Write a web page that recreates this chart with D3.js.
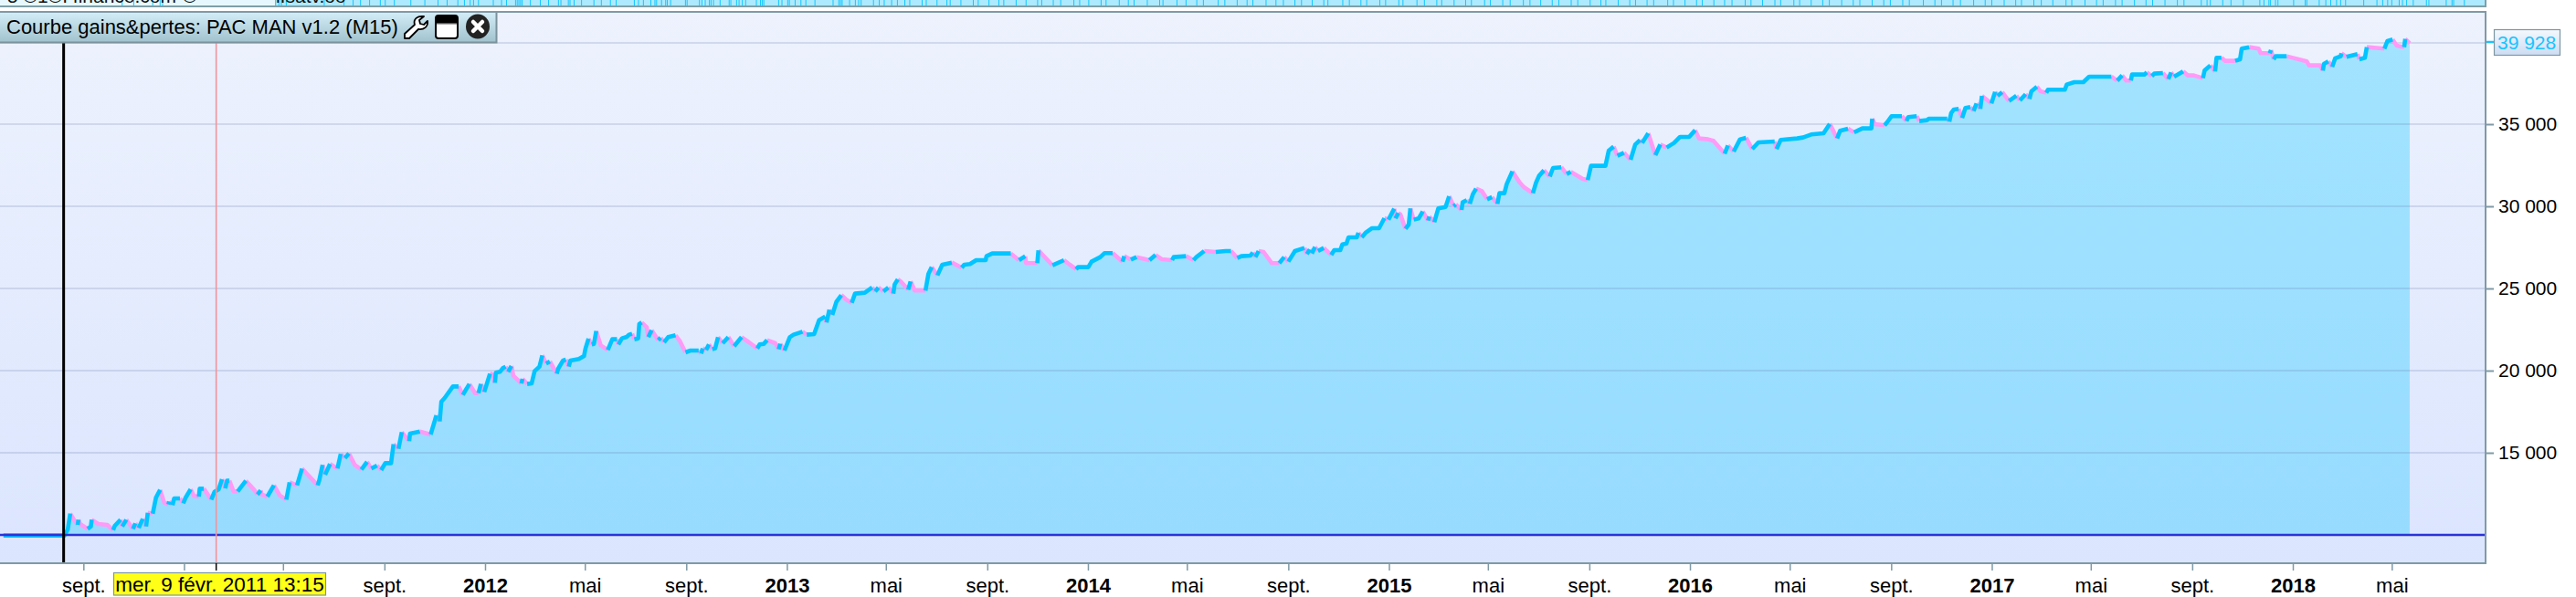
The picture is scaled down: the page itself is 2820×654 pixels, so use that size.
<!DOCTYPE html>
<html><head><meta charset="utf-8">
<script src="https://cdn.jsdelivr.net/npm/d3@7/dist/d3.min.js"></script>
<style>html,body{margin:0;padding:0;background:#fff}svg{display:block}text{font-family:"Liberation Sans",Arial,sans-serif}</style>
</head><body><div id="chart"></div>
<script>
// Days counted from 1 July 2010
const sessionDays = [-35,39,43,46,51,55,56,58,67,71,72,80,91,98,100,107,109,114,122,125,129,134,138,140,146,150,155,160,165,166,170,172,179,183,186,192,196,202,203,208,217,221,226,230,234,236,239,244,249,259,269,273,277,278,285,293,300,308,312,321,327,333,346,348,352,355,361,370,374,379,384,391,399,406,411,418,423,428,435,438,444,448,457,458,470,483,490,494,496,500,510,517,522,530,537,541,544,548,555,557.5,561,562,567,570.5,574,577,581,583.3,593,594.4,600,605.5,609,615,618.4,623,627.6,636,637.6,643.5,647,650.5,652.4,662.7,669,670.8,674.5,678.2,681,683.8,689.3,697.8,703.3,709,710.7,715,721,723.6,727.3,730,734.7,736,739,745,747,751,759,762,766,771,780,785,792,798,808,811,813,817,820.5,824.5,828,831.5,837,844,851,860,869,879,882,887,891,901,905,907,912,918.5,923,934,939,948,954,961.5,963,966.5,970,975,981,987,993.6,997.6,1009.5,1018.4,1022,1026,1032,1038,1044,1045.6,1049.5,1053,1062,1065,1070,1083,1086.6,1090.6,1097.5,1103.4,1115,1127,1130,1137,1144.5,1156,1157,1164,1186.5,1196.4,1204,1205,1218.6,1220,1226,1237,1251,1258,1265.6,1268,1280.5,1284.4,1295,1300,1310,1322,1324,1332,1339,1354.6,1362,1369.5,1382,1384,1399,1408,1411.5,1421,1435,1447,1453.5,1461,1466,1477,1480,1483,1487,1493,1503,1512,1518,1523,1531,1542.6,1545.5,1549,1551.5,1555.4,1559,1566,1575,1578.7,1586,1588.5,1593.5,1596,1606,1608,1612,1616.7,1624.6,1633,1639.5,1644.4,1651.4,1653,1656.3,1659,1665,1669,1671,1675,1681,1686,1692.4,1694,1700,1704.8,1713.7,1718,1723.5,1726,1733,1734.4,1739.4,1743,1746.8,1750.7,1757.7,1764,1770,1776.5,1779,1785,1787.8,1794.7,1803.6,1808.6,1819.5,1823.4,1827,1833,1840,1844,1854,1860.5,1865.5,1880,1886,1890,1907.5,1911.5,1917.5,1922,1930,1938,1943.6,1949.5,1952,1959.4,1968,1974,1981.7,1990.6,1998,2009,2016.3,2021,2032,2038.5,2052,2056,2063,2070.7,2078,2085.5,2093,2112.7,2115,2120,2140,2147,2157,2172,2179.5,2188.4,2192,2201.7,2209,2219,2230,2231,2234,2246,2249,2254.4,2267,2272.5,2274.7,2285,2288,2297.3,2299.6,2322,2324.5,2326.7,2330,2335.8,2340,2344,2350,2353.8,2357.5,2362,2364,2375.5,2380,2383,2388.6,2396.8,2405.8,2410,2417,2421.6,2424,2430.7,2435,2442,2444,2464.6,2466.8,2476,2487,2494,2521,2528,2534,2539,2544.6,2546,2561,2564,2570,2573,2583.5,2590,2593.4,2597,2608,2613.7,2621,2632,2634,2641,2646.7,2648.5,2654.4,2659,2671,2677,2679,2688,2699.6,2702,2713,2714.5,2717.7,2720,2733.5,2758,2760.6,2774,2777.4,2778.7,2784,2788.7,2792.3,2799,2800,2806,2819.4,2821.6,2828.4,2830.7,2852,2855.6,2862,2867,2876,2877.3,2882.7];
const equity = [9963,9963,10333,11296,10889,10611,10926,10667,10370,10519,10926,10667,10611,10296,10556,10926,10519,10926,10370,10704,10426,10981,10519,11352,11296,12278,12741,11963,11852,12037,11815,12222,12222,11926,12278,12778,12370,12333,12815,12815,12148,12630,12778,13389,12833,13296,13296,12648,12648,13296,12741,12463,12704,12463,12333,13019,12407,12148,13204,13019,14037,13722,13019,13333,14259,13667,14315,14037,14926,14685,14963,14259,13982,14444,14037,14222,13945,14370,14370,15519,15241,16259,15704,16167,16296,16111,17278,16907,18111,18333,19037,19037,18519,19185,18630,18630,19186,18704,19815,19778,19260,19871,19926,20148,20241,19926,20278,19686,19223,19500,19186,19223,19963,20241,20926,20426,20556,19815,20111,20611,20667,20241,20611,20704,20889,21352,21945,21593,21630,22408,21537,21260,21908,21908,21593,21963,22056,22186,22241,21908,21963,22834,22926,22649,22038,22464,21853,22000,21722,22038,22149,21815,21112,21223,21223,21038,21352,21260,21593,21297,21352,22038,21667,22038,21482,22038,21722,21352,21593,21630,21853,21667,21297,21630,21223,22038,22186,22371,22186,22223,23075,23297,22927,23705,23390,24186,24594,24316,24130,24686,24742,25056,24816,25056,24816,25056,24686,25242,25556,25427,24927,25427,24872,24872,25890,26298,25797,26446,26575,26260,26446,26483,26723,26723,26964,27130,27130,26723,26964,26538,26538,27316,27001,26408,26723,26446,26168,26298,26298,26631,26909,27149,27149,26631,26964,26760,26909,26723,27038,26779,26723,26909,26964,26723,26909,27279,27223,27279,27279,26853,26964,27001,27186,26909,27279,27223,26538,26538,26909,26631,27279,27464,27094,27372,27131,27520,27279,27464,27038,27335,27335,27686,27742,28112,28112,28390,28112,28390,28668,28668,29279,29187,29853,29261,29594,29501,28631,28890,29872,29187,29261,29686,29131,29372,29038,29872,29964,30612,30001,30112,29779,30242,30372,30149,30742,31075,30927,30427,30557,30149,30797,30797,31353,32131,31446,31168,30797,31446,31853,32187,31816,32335,32372,31964,32094,31668,31594,32464,32464,33390,33631,33075,33261,32835,33760,34038,33853,34446,33112,33760,33576,33853,34224,34224,34631,34131,34075,33983,33205,33705,33335,34075,34168,33483,33890,33946,33483,34038,34131,34187,34372,34446,35020,34131,34594,34723,34501,34742,34742,35335,35002,34928,35112,35483,35483,35187,35427,35483,35187,35242,35335,35335,35150,35668,35890,35927,35372,35983,36038,35797,36261,35927,36724,36261,36965,36724,36946,36409,36724,36446,36817,36539,37002,37280,37002,36909,37094,37094,37409,37557,37557,37891,37891,37650,37965,37650,37650,38020,38020,38150,37928,38076,38113,37743,38150,37891,38206,37965,37965,37798,38261,38576,38206,39040,39040,38854,38854,38947,39594,39687,39594,39317,39317,39502,38947,39131,39131,38817,38576,38576,38261,38669,38817,38483,39002,39131,39317,39094,39260,38947,39040,39687,39594,40057,40150,39780,39687,40187,39928];

const gridValues = [15000,20000,25000,30000,35000];
const lastValue = 39928;
const tickDates = ["2010-09-01","2011-01-01","2011-05-01","2011-09-01","2012-01-01","2012-05-01","2012-09-01","2013-01-01","2013-05-01","2013-09-01","2014-01-01","2014-05-01","2014-09-01","2015-01-01","2015-05-01","2015-09-01","2016-01-01","2016-05-01","2016-09-01","2017-01-01","2017-05-01","2017-09-01","2018-01-01","2018-05-01"];
const tickLabels = ["sept.","","","sept.","2012","mai","sept.","2013","mai","sept.","2014","mai","sept.","2015","mai","sept.","2016","mai","sept.","2017","mai","sept.","2018","mai"];
const titleText = "Courbe gains&pertes: PAC MAN v1.2 (M15)";
const cursorDate = "2011-02-09";
const cursorLabel = "mer. 9 févr. 2011 13:15";
const startDate = "2010-08-08";
const tradeDays = [109,123,146,155,158,295,299,302,308,354,378,389,398,409,422,428,439,459,476,492,503,516,524,531,535,541,559,569,575,586,588,590,592,594,604,616,626,638,641,650,652,657,666,681,690,701,708,730,735,741,750,755,757,763,768,770,774,792,794,809,812,816,821,823,826,834,845,847,854,857,861,865,878,883,885,887,905,909,916,918,925,932,938,949,971,978,980,982,991,998,1002,1005,1020,1027,1033,1042,1049,1058,1064,1079,1084,1097,1109,1113,1126,1141,1147,1160,1172,1178,1193,1205,1219,1224,1238,1247,1263,1270,1281,1296,1302,1318,1329,1336,1352,1367,1371,1388,1399,1412,1420,1438,1446,1461,1473,1480,1496,1508,1517,1531,1539,1552,1566,1571,1589,1597,1611,1618,1634,1641,1657,1662,1679,1688,1703,1709,1724,1738,1745,1761,1768,1783,1792,1808,1816,1829,1843,1851,1866,1874,1889,1902,1908,1923,1937,1944,1958,1966,1983,1990,2004,2018,2025,2039,2052,2061,2077,2084,2098,2113,2120,2136,2143,2157,2171,2179,2194,2208,2216,2231,2245,2253,2268,2276,2293,2307,2315,2329,2338,2354,2368,2376,2391,2405,2412,2427,2436,2450,2466,2473,2489,2503,2511,2526,2534,2549,2563,2571,2586,2601,2609,2630,2637,2641,2656,2666,2681,2701,2706,2712,2714,2720,2723,2742,2756,2758,2773,2781,2787,2794,2799,2805,2827,2843,2850,2856,2861,2870,2874,2879,2887,2903,2906,2927,2934,2936,2949];

const W=2820,H=654;
const parse=d3.utcParse("%Y-%m-%d");
const base=parse("2010-07-01");
const toDate=n=>new Date(base.getTime()+n*864e5);
const x=d3.scaleUtc().domain([parse("2012-01-01"),parse("2018-01-01")]).range([531,2510]);
const y=d3.scaleLinear().domain([10000,35000]).range([586,136]);
const plot={l:0,r:2721,t:13,b:617};

const svg=d3.select("#chart").append("svg").attr("width",W).attr("height",H).attr("viewBox",`0 0 ${W} ${H}`);
const defs=svg.append("defs");
function grad(id,stops){const g=defs.append("linearGradient").attr("id",id).attr("x1",0).attr("x2",0).attr("y1",0).attr("y2",1);
 stops.forEach(([o,c])=>g.append("stop").attr("offset",o).attr("stop-color",c));}
grad("bgG",[[0,"#edf2fd"],[1,"#dbe5fe"]]);
grad("areaG",[[0,"#a2e4ff"],[1,"#97dbff"]]);
grad("barG",[[0,"#d2ecf6"],[1,"#a0c2ce"]]);
grad("lblG",[[0,"#f4f8fd"],[1,"#cddcf3"]]);
grad("winG",[[0,"#000"],[.3,"#000"],[.42,"#fff"],[1,"#fff"]]);
defs.append("clipPath").attr("id","plotClip").append("rect").attr("x",0).attr("y",plot.t).attr("width",plot.r).attr("height",plot.b-plot.t);
defs.append("clipPath").attr("id","stripClip").append("rect").attr("x",0).attr("y",0).attr("width",plot.r).attr("height",6);

// top strip (cut-off panel above)
const strip=svg.append("g").attr("clip-path","url(#stripClip)");
strip.append("rect").attr("x",0).attr("y",0).attr("width",302).attr("height",6).attr("fill","#e6f8fe");
strip.append("rect").attr("x",302).attr("y",0).attr("width",plot.r-302).attr("height",6).attr("fill","#aeeaff");
strip.selectAll("line.t").data(tradeDays).join("line").attr("class","t")
 .attr("x1",d=>x(toDate(d))).attr("x2",d=>x(toDate(d))).attr("y1",0).attr("y2",6).attr("stroke","#12c6ff").attr("stroke-width",1);
strip.append("text").attr("x",8).attr("y",3).attr("font-size",21).attr("fill","#111").text("5 ©1©I finance.com");
strip.append("text").attr("x",200).attr("y",3).attr("font-size",21).attr("fill","#111").text("©  '");
strip.append("text").attr("x",302).attr("y",3).attr("font-size",21).attr("fill","#111").text("ifsatv.oo");
svg.append("line").attr("x1",0).attr("x2",plot.r+1).attr("y1",7).attr("y2",7).attr("stroke","#7f9ea8").attr("stroke-width",2);
svg.append("line").attr("x1",plot.r).attr("x2",plot.r).attr("y1",0).attr("y2",7).attr("stroke","#7f9ea8").attr("stroke-width",2);

// plot background
svg.append("rect").attr("x",0).attr("y",plot.t).attr("width",plot.r).attr("height",plot.b-plot.t).attr("fill","url(#bgG)");

const pts=sessionDays.map((d,i)=>({d:toDate(d),v:equity[i]}));
const g=svg.append("g").attr("clip-path","url(#plotClip)");
const area=d3.area().x(p=>x(p.d)).y0(y(10000)).y1(p=>y(p.v));
g.append("path").datum(pts.slice(1)).attr("d",area).attr("fill","url(#areaG)");

// grid
g.selectAll("line.grid").data([...gridValues,lastValue]).join("line").attr("class","grid")
 .attr("x1",0).attr("x2",plot.r).attr("y1",v=>Math.round(y(v))).attr("y2",v=>Math.round(y(v)))
 .attr("stroke","rgb(100,120,170)").attr("stroke-opacity",.2).attr("stroke-width",2);

// equity line, split into rising (cyan) and falling (pink) runs
const runs=[];let st="up";
pts.forEach((p,i)=>{ if(!i){runs.push({s:st,p:[p]});return;}
 const prev=pts[i-1];const ns=p.v>prev.v?"up":p.v<prev.v?"dn":st;
 if(ns!==st){runs.push({s:ns,p:[prev,p]});st=ns;} else runs[runs.length-1].p.push(p);
});
const line=d3.line().x(p=>x(p.d)).y(p=>y(p.v));
g.selectAll("path.dn").data(runs.filter(r=>r.s==="dn")).join("path").attr("class","dn").attr("d",r=>line(r.p))
 .attr("fill","none").attr("stroke","#ff9bf6").attr("stroke-width",4.6).attr("stroke-linejoin","round");
g.selectAll("path.up").data(runs.filter(r=>r.s==="up")).join("path").attr("class","up").attr("d",r=>line(r.p))
 .attr("fill","none").attr("stroke","#02c4ff").attr("stroke-width",4.6).attr("stroke-linejoin","round");

// reference line
g.append("line").attr("x1",0).attr("x2",plot.r-1).attr("y1",y(10000)).attr("y2",y(10000)).attr("stroke","#2a33d8").attr("stroke-width",2.5);
// markers
const xStart=x(parse(startDate)), xCur=x(parse(cursorDate));
g.append("line").attr("x1",xCur).attr("x2",xCur).attr("y1",plot.t).attr("y2",plot.b).attr("stroke","#f0949c").attr("stroke-width",1.6);
g.append("line").attr("x1",xStart).attr("x2",xStart).attr("y1",plot.t).attr("y2",plot.b).attr("stroke","#000").attr("stroke-width",3);

// frame
svg.append("path").attr("d",`M0 ${plot.t}H${plot.r}V${plot.b}H0`).attr("fill","none").attr("stroke","#7f9aa6").attr("stroke-width",2);

// y axis
const fmt=d3.formatLocale({decimal:",",thousands:" ",grouping:[3],currency:["","€"]}).format(",d");
const yAxis=d3.axisRight(y).tickValues(gridValues).tickFormat(fmt).tickSize(8).tickPadding(5);
const ya=svg.append("g").attr("transform",`translate(${plot.r+1},0)`).call(yAxis);
ya.select(".domain").remove();
ya.selectAll("line").attr("stroke","#7f9aa6").attr("stroke-width",2);
ya.selectAll("text").attr("font-size",21).attr("fill","#000").attr("font-family","Liberation Sans");

// last value label
const yl=Math.round(y(lastValue))-1;
svg.append("line").attr("x1",plot.r+1).attr("x2",2731).attr("y1",yl).attr("y2",yl).attr("stroke","#19c3ff").attr("stroke-width",2.5);
svg.append("rect").attr("x",2730.5).attr("y",32.5).attr("width",72).attr("height",28).attr("fill","url(#lblG)").attr("stroke","#7d97a3").attr("stroke-width",1.2);
svg.append("text").attr("x",2734).attr("y",yl+8).attr("font-size",21).attr("fill","#19c3ff").text(fmt(lastValue));

// x axis
const xAxis=d3.axisBottom(x).tickValues(tickDates.map(parse)).tickFormat((d,i)=>tickLabels[i]).tickSize(8).tickPadding(8);
const xa=svg.append("g").attr("transform",`translate(0,${plot.b})`).call(xAxis);
xa.select(".domain").remove();
xa.selectAll("line").attr("stroke","#7f9aa6").attr("stroke-width",1.5);
xa.selectAll("text").attr("font-size",22).attr("fill","#000").attr("font-family","Liberation Sans")
 .attr("font-weight",(d,i)=>/^\d+$/.test(tickLabels[i])?"bold":"normal");

// cursor tick and tooltip
svg.append("line").attr("x1",xCur).attr("x2",xCur).attr("y1",plot.b).attr("y2",plot.b+8).attr("stroke","#000").attr("stroke-width",1.5);
svg.append("rect").attr("x",124.5).attr("y",627.5).attr("width",232).attr("height",24.5).attr("fill","#ffff18").attr("stroke","#7d97a3").attr("stroke-width",1.2);
svg.append("text").attr("x",240.5).attr("y",648).attr("text-anchor","middle").attr("font-size",22.5).attr("fill","#000").text(cursorLabel);

// title bar
svg.append("rect").attr("x",0).attr("y",14).attr("width",543).attr("height",32.5).attr("fill","url(#barG)");
svg.append("path").attr("d","M0 46.5H543.5V14").attr("fill","none").attr("stroke","#7b929c").attr("stroke-width",2);
svg.append("text").attr("x",7).attr("y",37).attr("font-size",22).attr("fill","#000").text(titleText);
const ic=svg.append("g");
ic.append("path").attr("transform","translate(442,17)")
 .attr("d","M1 25 L1 20 L12 10 C10 4 15 0 22 1 L17 5 L18 9 L22 10 L26 6 C27 12 22 16 16 15 L6 25 Z")
 .attr("fill","#fff").attr("stroke","#000").attr("stroke-width",1.8).attr("stroke-linejoin","round");
ic.append("rect").attr("x",477).attr("y",17).attr("width",24).attr("height",25).attr("rx",3).attr("fill","url(#winG)").attr("stroke","#000").attr("stroke-width",2);
ic.append("ellipse").attr("cx",523).attr("cy",29).attr("rx",13).attr("ry",13.5).attr("fill","#222");
ic.append("path").attr("d","M518 24 L528 34 M528 24 L518 34").attr("stroke","#fff").attr("stroke-width",4.5).attr("stroke-linecap","round");
</script></body></html>
